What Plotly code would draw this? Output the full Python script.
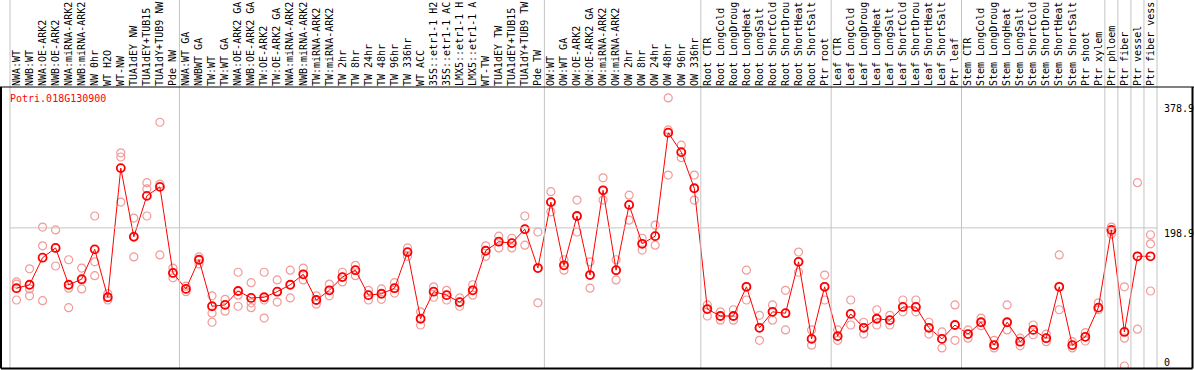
import plotly.graph_objects as go

categories = [
    "NWA:WT", "NWB:WT", "NWA:OE-ARK2", "NWB:OE-ARK2", "NWA:miRNA-ARK2", "NWB:miRNA-ARK2",
    "NW 0hr", "WT H2O", "WT-NW", "TUA1dEY NW", "TUA1dEY+TUB15", "TUA1dY+TUB9 NW", "Pde NW",
    "NWA:WT GA", "NWBWT GA", "TW:WT", "TW:WT GA", "NWA:OE-ARK2 GA", "NWB:OE-ARK2 GA",
    "TW:OE-ARK2", "TW:OE-ARK2 GA", "NWA:miRNA-ARK2", "NWB:miRNA-ARK2", "TW:miRNA-ARK2",
    "TW:miRNA-ARK2", "TW 2hr", "TW 8hr", "TW 24hr", "TW 48hr", "TW 96hr", "TW 336hr",
    "WT ACC", "35S::etr1-1 H2", "35S::etr1-1 AC", "LMX5::etr1-1 H", "LMX5::etr1-1 A",
    "WT-TW", "TUA1dEY TW", "TUA1dEY+TUB15", "TUA1dY+TUB9 TW", "Pde TW",
    "OW:WT", "OW:WT GA", "OW:OE-ARK2", "OW:OE-ARK2 GA", "OW:miRNA-ARK2", "OW:miRNA-ARK2",
    "OW 2hr", "OW 8hr", "OW 24hr", "OW 48hr", "OW 96hr", "OW 336hr",
    "Root CTR", "Root LongCold", "Root LongDroug", "Root LongHeat", "Root LongSalt",
    "Root ShortCold", "Root ShortDrou", "Root ShortHeat", "Root ShortSalt", "Ptr root",
    "Leaf CTR", "Leaf LongCold", "Leaf LongDroug", "Leaf LongHeat", "Leaf LongSalt",
    "Leaf ShortCold", "Leaf ShortDrou", "Leaf ShortHeat", "Leaf ShortSalt", "Ptr leaf",
    "Stem CTR", "Stem LongCold", "Stem LongDroug", "Stem LongHeat", "Stem LongSalt",
    "Stem ShortCold", "Stem ShortDrou", "Stem ShortHeat", "Stem ShortSalt", "Ptr shoot",
    "Ptr xylem", "Ptr phloem", "Ptr fiber", "Ptr vessel", "Ptr fiber vess",
]

mean_values = [
    112, 117, 156, 170, 117, 125, 168, 99, 285, 186, 245, 258, 134,
    111, 153, 86, 88, 108, 98, 99, 107, 117, 132, 95, 109, 128, 138, 102, 104, 112,
    164, 68, 107, 102, 92, 109, 166, 179, 177, 197, 141,
    236, 145, 216, 131, 253, 138, 232, 176, 187, 336, 308, 256,
    82, 72, 72, 114, 55, 78, 76, 150, 39, 114,
    43, 75, 55, 68, 66, 85, 85, 55, 39, 59,
    46, 63, 30, 63, 35, 52, 40, 114, 30, 42, 84,
    196, 49, 158, 158,
]

replicate_values = [
    [121, 118, 95], [140, 111, 101], [200, 173, 94], [196, 170, 144], [153, 112, 84],
    [141, 124, 111], [216, 150, 130], [104, 99, 95], [307, 301, 236], [213, 187, 157],
    [264, 255, 216], [351, 262, 160], [141, 134, 127],
    [115, 111, 107], [157, 153, 147], [101, 76, 63], [96, 88, 79], [135, 102, 86],
    [120, 91, 84], [135, 95, 69], [124, 107, 92], [138, 117, 98], [141, 132, 124],
    [101, 95, 89], [118, 109, 101], [135, 128, 121], [145, 138, 130], [109, 102, 95],
    [111, 104, 96], [120, 112, 105], [170, 164, 158], [78, 68, 59], [114, 107, 99],
    [109, 102, 95], [98, 92, 86], [117, 109, 102], [173, 166, 158], [187, 179, 170],
    [184, 177, 170], [216, 197, 174], [193, 141, 91],
    [251, 236, 222], [153, 145, 138], [239, 216, 193], [150, 131, 112], [271, 253, 239],
    [153, 138, 124], [246, 232, 210], [184, 176, 167], [203, 187, 174], [386, 340, 275],
    [318, 308, 300], [275, 256, 239],
    [88, 82, 72], [78, 72, 66], [81, 72, 66], [138, 114, 95], [73, 55, 37],
    [88, 78, 66], [109, 76, 52], [164, 150, 135], [52, 39, 30], [131, 114, 95],
    [52, 43, 37], [95, 75, 59], [63, 55, 46], [81, 68, 59], [73, 66, 59],
    [95, 85, 78], [95, 85, 78], [63, 55, 46], [49, 39, 26], [88, 59, 37],
    [52, 46, 40], [69, 63, 58], [37, 30, 26], [88, 63, 52], [40, 35, 29],
    [59, 52, 45], [46, 40, 35], [160, 114, 81], [35, 30, 26], [48, 42, 36], [91, 84, 81],
    [200, 194, 190], [114, 40, 0], [264, 158, 53], [189, 176, 108],
]

# number of categories in each group (separators drawn after each group)
group_sizes = [13, 28, 12, 10, 10, 11, 1, 1, 1, 1]

gene_id = "Potri.018G130900"
y_ticks = [0, 198.9, 378.9]
y_range = [-2.9, 401.8]

W, H = 1194, 370
ML, MR, MT, MB = 10, 37, 87, 2
PW, PH = W - ML - MR, H - MT - MB

FONT = "DejaVu Sans Mono"
n = len(categories)
xs = list(range(n))

fig = go.Figure()

rx, ry = [], []
for i, reps in enumerate(replicate_values):
    for v in reps:
        rx.append(i)
        ry.append(v)

fig.add_trace(go.Scatter(
    x=rx, y=ry, mode="markers",
    marker=dict(symbol="circle-open", size=8, color="#f29a9a", line=dict(width=1.2)),
    showlegend=False, hoverinfo="skip",
))
fig.add_trace(go.Scatter(
    x=xs, y=mean_values, mode="lines+markers",
    line=dict(color="#ff0000", width=1),
    marker=dict(symbol="circle-open", size=8, color="#ff0000", line=dict(width=1.8)),
    showlegend=False,
))

shapes = []
bounds = [0]
for g in group_sizes:
    bounds.append(bounds[-1] + g)
top_paper = 1 + MT / PH
for b in bounds:
    shapes.append(dict(type="line", xref="paper", yref="paper",
                       x0=b / n, x1=b / n, y0=0, y1=top_paper,
                       line=dict(color="#c4c4c4", width=1)))
shapes.append(dict(type="line", xref="paper", yref="y", x0=0, x1=1,
                   y0=y_ticks[1], y1=y_ticks[1], line=dict(color="#c4c4c4", width=1)))
left_p = (1.0 - ML) / PW
right_p = (W - 1.5 - ML) / PW
bottom_p = -(0.6) / PH
shapes.append(dict(type="line", xref="paper", yref="paper", x0=left_p - 0.01, x1=right_p + 0.01,
                   y0=1, y1=1, line=dict(color="black", width=1)))
for (x0, x1, y0, y1) in [(left_p, left_p, bottom_p, 1), (right_p, right_p, bottom_p, 1),
                         (left_p, right_p, bottom_p, bottom_p)]:
    shapes.append(dict(type="line", xref="paper", yref="paper", x0=x0, x1=x1,
                       y0=y0, y1=y1, line=dict(color="black", width=2)))

annotations = [dict(text=gene_id, xref="paper", yref="paper", x=0, y=1,
                    xanchor="left", yanchor="top", xshift=-2, yshift=-4, showarrow=False,
                    font=dict(family=FONT, size=10, color="#ff0000"))]
for v in y_ticks:
    label = "0" if v == 0 else f"{v:.1f}"
    annotations.append(dict(text=label, xref="paper", yref="y", x=1, y=v,
                            xanchor="left", yanchor="bottom" if v == 0 else "top",
                            xshift=5, yshift=-4 if v == 0 else 2, showarrow=False,
                            font=dict(family=FONT, size=10, color="black")))

fig.update_layout(
    width=W, height=H,
    margin=dict(l=ML, r=MR, t=MT, b=MB, pad=0),
    paper_bgcolor="white", plot_bgcolor="white",
    shapes=shapes, annotations=annotations,
    xaxis=dict(range=[-0.5, n - 0.5], tickmode="array", tickvals=xs, ticktext=categories,
               side="top", tickangle=-90, showgrid=False, zeroline=False, showline=False,
               ticks="", automargin=False,
               tickfont=dict(family=FONT, size=10, color="black")),
    yaxis=dict(range=y_range, showgrid=False, zeroline=False, showline=False,
               showticklabels=False, ticks="", automargin=False),
)

fig.write_html("out.html", config={"displayModeBar": False},
               post_script="document.body.style.margin='0';")
